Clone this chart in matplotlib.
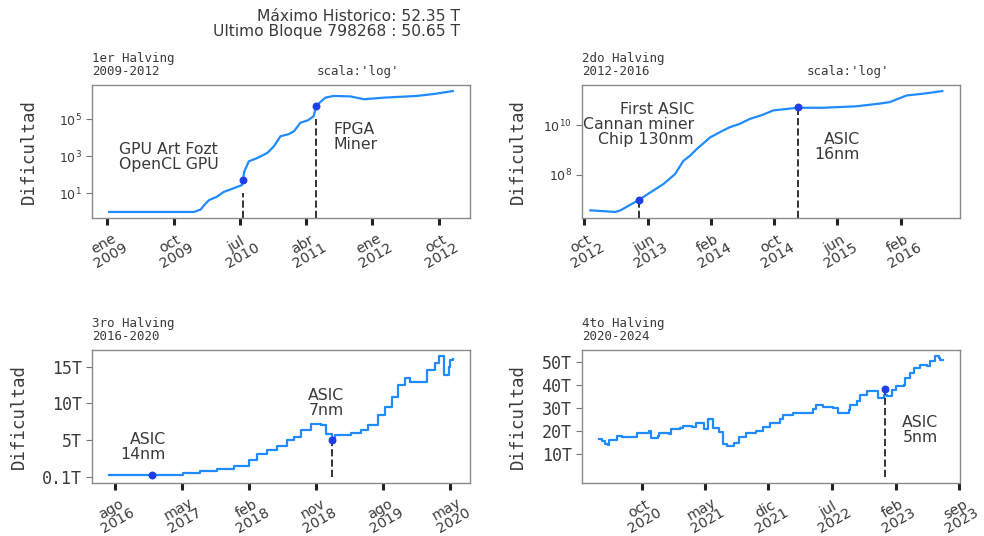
import numpy as np
import pandas as pd
import matplotlib
matplotlib.use("Agg")
import matplotlib.pyplot as plt

# --- data ---
h1_dates = ["2009-01-08", "2009-12-24", "2010-01-21", "2010-02-04", "2010-02-25",
            "2010-03-29", "2010-04-26", "2010-06-06", "2010-07-10", "2010-07-15",
            "2010-07-20", "2010-08-08", "2010-09-10", "2010-10-09", "2010-10-25",
            "2010-11-20", "2010-12-17", "2011-01-20", "2011-02-11", "2011-03-09",
            "2011-04-10", "2011-05-03", "2011-05-14", "2011-06-01", "2011-06-21",
            "2011-07-25", "2011-10-02", "2011-11-27", "2012-02-18", "2012-07-04",
            "2012-09-15", "2012-11-28"]
h1_diff = [1, 1, 1.35, 2.3, 4.4,
           6.6, 12, 19, 28, 54,
           150, 540, 800, 1230, 1600,
           3550, 12300, 16000, 23000, 66000,
           90000, 150000, 540000, 900000, 1500000,
           1860000, 1740000, 1230000, 1500000, 1860000,
           2400000, 3400000]

h2_dates = ["2012-10-24", "2012-12-01", "2013-01-28", "2013-02-17", "2013-04-29",
            "2013-06-11", "2013-08-01", "2013-09-15", "2013-10-17", "2013-11-12",
            "2013-12-07", "2014-01-28", "2014-03-19", "2014-04-13", "2014-05-22",
            "2014-06-30", "2014-08-13", "2014-09-28", "2014-12-30", "2015-04-07",
            "2015-08-13", "2015-11-13", "2015-12-20", "2016-02-23", "2016-04-26",
            "2016-07-09"]
h2_diff = [3.6e6, 3.4e6, 3.1e6, 3.6e6, 9.6e6,
           1.9e7, 4.2e7, 1.07e8, 3.7e8, 6.0e8,
           1.1e9, 3.3e9, 6.3e9, 8.5e9, 1.17e10,
           1.86e10, 2.6e10, 4.1e10, 5.25e10, 5.25e10,
           6.0e10, 7.8e10, 8.9e10, 1.66e11, 1.95e11,
           2.5e11]

h3_dates = ["2016-07-09", "2016-12-30", "2017-05-08", "2017-07-15", "2017-09-23",
            "2017-11-30", "2018-02-01", "2018-03-05", "2018-04-15", "2018-05-26",
            "2018-07-06", "2018-08-03", "2018-08-31", "2018-10-11", "2018-11-21",
            "2018-12-11", "2019-01-04", "2019-01-15", "2019-03-23", "2019-05-03",
            "2019-05-31", "2019-07-11", "2019-08-08", "2019-09-05", "2019-10-02",
            "2019-10-29", "2019-11-19", "2020-01-06", "2020-01-27", "2020-03-01",
            "2020-03-14", "2020-03-31", "2020-04-04", "2020-04-17", "2020-04-24",
            "2020-05-01", "2020-05-11"]
h3_diff = [0.23, 0.23, 0.55, 0.82, 1.14,
           1.45, 2.27, 3.09, 3.64, 4.18,
           5.0, 5.45, 6.36, 7.27, 7.05,
           5.9, 5.0, 5.68, 6.0, 6.36,
           7.05, 8.41, 9.55, 10.9, 12.5,
           13.4, 12.95, 12.95, 14.55, 15.45,
           16.45, 16.45, 13.86, 13.86, 15.0,
           15.9, 16.0]

h4_dates = ["2020-05-11", "2020-05-20", "2020-05-29", "2020-06-11", "2020-06-14",
            "2020-07-09", "2020-07-26", "2020-09-16", "2020-10-25", "2020-11-01",
            "2020-11-23", "2020-11-29", "2021-01-02", "2021-01-07", "2021-02-05",
            "2021-02-16", "2021-03-20", "2021-04-01", "2021-04-23", "2021-04-29",
            "2021-05-10", "2021-05-24", "2021-05-29", "2021-06-18", "2021-06-30",
            "2021-07-16", "2021-08-08", "2021-08-25", "2021-09-17", "2021-10-21",
            "2021-11-13", "2021-12-05", "2022-01-08", "2022-01-19", "2022-02-22",
            "2022-03-26", "2022-04-30", "2022-05-11", "2022-06-03", "2022-07-06",
            "2022-07-23", "2022-08-27", "2022-09-02", "2022-09-24", "2022-10-05",
            "2022-10-28", "2022-12-03", "2022-12-23", "2023-01-04", "2023-01-21",
            "2023-02-02", "2023-03-01", "2023-03-05", "2023-03-22", "2023-04-03",
            "2023-04-25", "2023-05-18", "2023-05-29", "2023-06-15", "2023-06-26",
            "2023-07-02", "2023-07-10"]
h4_diff = [16.3, 15.7, 14.5, 13.8, 15.9,
           17.7, 17.2, 19.2, 19.9, 16.7,
           17.7, 19.2, 18.6, 20.7, 21.4,
           22.1, 21.8, 23.3, 23.6, 20.7,
           25.0, 25.0, 21.1, 19.6, 14.5,
           13.5, 14.8, 17.4, 18.9, 20.1,
           21.8, 23.3, 25.0, 26.9, 27.96,
           27.7, 29.4, 31.3, 30.3, 29.85,
           27.7, 29.1, 31.3, 32.8, 35.7,
           37.2, 34.2, 35.5, 35.0, 37.9,
           39.3, 40.1, 43.0, 45.2, 47.4,
           48.8, 48.1, 50.3, 52.5, 51.8,
           51.0, 50.65]

# hitos (fecha, valor)
h1_event_dates = ["2010-07-15", "2011-05-14"]
h1_event_vals = [51, 534000]
h1_event_tops = [10, 1e5]
h2_event_dates = ["2013-05-01", "2014-12-30"]
h2_event_vals = [9.6e6, 5.6e10]
h3_event_dates = ["2016-12-30", "2019-01-04"]
h3_event_vals = [0.2, 5.0]
h4_event_dates = ["2022-12-29"]
h4_event_vals = [38.2]

h1_ticks = ["2009-01-01", "2009-10-01", "2010-07-01", "2011-04-01", "2012-01-01", "2012-10-01"]
h1_ticklabels = ["ene\n2009", "oct\n2009", "jul\n2010", "abr\n2011", "ene\n2012", "oct\n2012"]
h2_ticks = ["2012-10-01", "2013-06-01", "2014-02-01", "2014-10-01", "2015-06-01", "2016-02-01"]
h2_ticklabels = ["oct\n2012", "jun\n2013", "feb\n2014", "oct\n2014", "jun\n2015", "feb\n2016"]
h3_ticks = ["2016-08-01", "2017-05-01", "2018-02-01", "2018-11-01", "2019-08-01", "2020-05-01"]
h3_ticklabels = ["ago\n2016", "may\n2017", "feb\n2018", "nov\n2018", "ago\n2019", "may\n2020"]
h4_ticks = ["2020-10-01", "2021-05-01", "2021-12-01", "2022-07-01", "2023-02-01", "2023-09-01"]
h4_ticklabels = ["oct\n2020", "may\n2021", "dic\n2021", "jul\n2022", "feb\n2023", "sep\n2023"]

h3_yticks = [0, 5, 10, 15]
h3_yticklabels = ["0.1T", "5T", "10T", "15T"]
h4_yticks = [10, 20, 30, 40, 50]
h4_yticklabels = ["10T", "20T", "30T", "40T", "50T"]

LINE = "#1f8bff"
DOT = "#1f3fe6"
TXT = "#3a3a3a"
ANN = 11.3


def style_axes(ax, ticks, ticklabels):
    for s in ax.spines.values():
        s.set_color("#8a8a8a")
        s.set_linewidth(1.0)
    ax.set_xticks(pd.to_datetime(ticks))
    ax.set_xticklabels(ticklabels, rotation=30, ha="center", fontsize=10.3,
                       color=TXT, linespacing=0.95)
    ax.tick_params(axis="x", length=5, width=2.2, color="#222222", pad=3)
    ax.tick_params(axis="y", length=4, width=0.8, color="#777777",
                   labelcolor=TXT)
    ax.set_ylabel("Dificultad", family="DejaVu Sans Mono", fontsize=12.5,
                  color=TXT)


def halving_title(ax, text):
    ax.text(0, 1.05, text, transform=ax.transAxes, ha="left", va="bottom",
            family="DejaVu Sans Mono", fontsize=9, color=TXT, linespacing=1.0)


def note(ax, x, y, text, ha="right"):
    ax.text(x, y, text, transform=ax.transAxes, fontsize=ANN, color=TXT,
            ha=ha, va="center", multialignment=ha, linespacing=1.0)


fig = plt.figure(figsize=(9.84, 5.36), dpi=100)
fig.patch.set_facecolor("white")

fig.text(460 / 984, 1 - 9 / 536,
         "Máximo Historico: 52.35 T\nUltimo Bloque 798268 : 50.65 T",
         ha="right", va="top", fontsize=11.2, color=TXT, linespacing=1.0)

# 1er halving
ax1 = fig.add_axes([0.0935, 0.5933, 0.3841, 0.2481])
ax1.plot(pd.to_datetime(h1_dates), h1_diff, color=LINE, lw=1.6)
ax1.set_yscale("log")
ax1.set_yticks([10, 1e3, 1e5])
ax1.set_yticklabels([r"$10^1$", r"$10^3$", r"$10^5$"], fontsize=9)
ax1.minorticks_off()
ylo = ax1.get_ylim()
ax1.vlines(pd.to_datetime(h1_event_dates), ylo[0], h1_event_tops,
           colors="#333333", linestyles="--", lw=1.4)
ax1.set_ylim(ylo)
ax1.scatter(pd.to_datetime(h1_event_dates), h1_event_vals, color=DOT, s=22, zorder=3)
note(ax1, 0.071, 0.461, "GPU Art Fozt\nOpenCL GPU", ha="left")
note(ax1, 0.638, 0.611, "FPGA\nMiner", ha="left")
style_axes(ax1, h1_ticks, h1_ticklabels)
halving_title(ax1, "1er Halving\n2009-2012")
ax1.text(0.595, 1.05, "scala:'log'", transform=ax1.transAxes, ha="left",
         va="bottom", family="DejaVu Sans Mono", fontsize=9, color=TXT)

# 2do halving
ax2 = fig.add_axes([0.5915, 0.5933, 0.3841, 0.2481])
ax2.plot(pd.to_datetime(h2_dates), h2_diff, color=LINE, lw=1.6)
ax2.set_yscale("log")
ax2.set_yticks([1e8, 1e10])
ax2.set_yticklabels([r"$10^8$", r"$10^{10}$"], fontsize=9)
ax2.minorticks_off()
ax2.set_xlim(pd.Timestamp("2012-09-22"), pd.Timestamp("2016-09-15"))
ylo = ax2.get_ylim()
ax2.vlines(pd.to_datetime(h2_event_dates), ylo[0], h2_event_vals,
           colors="#333333", linestyles="--", lw=1.4)
ax2.set_ylim(ylo)
ax2.scatter(pd.to_datetime(h2_event_dates), h2_event_vals, color=DOT, s=22, zorder=3)
note(ax2, 0.296, 0.70, "First ASIC\nCannan miner\nChip 130nm")
note(ax2, 0.735, 0.536, "ASIC\n16nm")
style_axes(ax2, h2_ticks, h2_ticklabels)
halving_title(ax2, "2do Halving\n2012-2016")
ax2.text(0.595, 1.05, "scala:'log'", transform=ax2.transAxes, ha="left",
         va="bottom", family="DejaVu Sans Mono", fontsize=9, color=TXT)

# 3ro halving
ax3 = fig.add_axes([0.0935, 0.0989, 0.3841, 0.2481])
ax3.plot(pd.to_datetime(h3_dates), h3_diff, color=LINE, lw=1.6, drawstyle="steps-post")
ax3.vlines(pd.to_datetime(h3_event_dates[1:]), 0, h3_event_vals[1:],
           colors="#333333", linestyles="--", lw=1.4)
ax3.scatter(pd.to_datetime(h3_event_dates), h3_event_vals, color=DOT, s=22, zorder=3)
ax3.set_yticks(h3_yticks)
ax3.set_yticklabels(h3_yticklabels, family="DejaVu Sans Mono", fontsize=12)
note(ax3, 0.195, 0.27, "ASIC\n14nm")
note(ax3, 0.667, 0.60, "ASIC\n7nm")
style_axes(ax3, h3_ticks, h3_ticklabels)
halving_title(ax3, "3ro Halving\n2016-2020")

# 4to halving
ax4 = fig.add_axes([0.5915, 0.0989, 0.3841, 0.2481])
ax4.plot(pd.to_datetime(h4_dates), h4_diff, color=LINE, lw=1.6, drawstyle="steps-post")
ax4.vlines(pd.to_datetime(h4_event_dates), 0, h4_event_vals,
           colors="#333333", linestyles="--", lw=1.4)
ax4.scatter(pd.to_datetime(h4_event_dates), h4_event_vals, color=DOT, s=22, zorder=3)
ax4.set_yticks(h4_yticks)
ax4.set_yticklabels(h4_yticklabels, family="DejaVu Sans Mono", fontsize=12)
note(ax4, 0.942, 0.40, "ASIC\n5nm")
style_axes(ax4, h4_ticks, h4_ticklabels)
halving_title(ax4, "4to Halving\n2020-2024")

ax1.yaxis.set_label_coords(-0.143, 0.5)
ax2.yaxis.set_label_coords(-0.1455, 0.5)
ax3.yaxis.set_label_coords(-0.169, 0.5)
ax4.yaxis.set_label_coords(-0.1455, 0.5)

fig.savefig("out.png", dpi=100)
